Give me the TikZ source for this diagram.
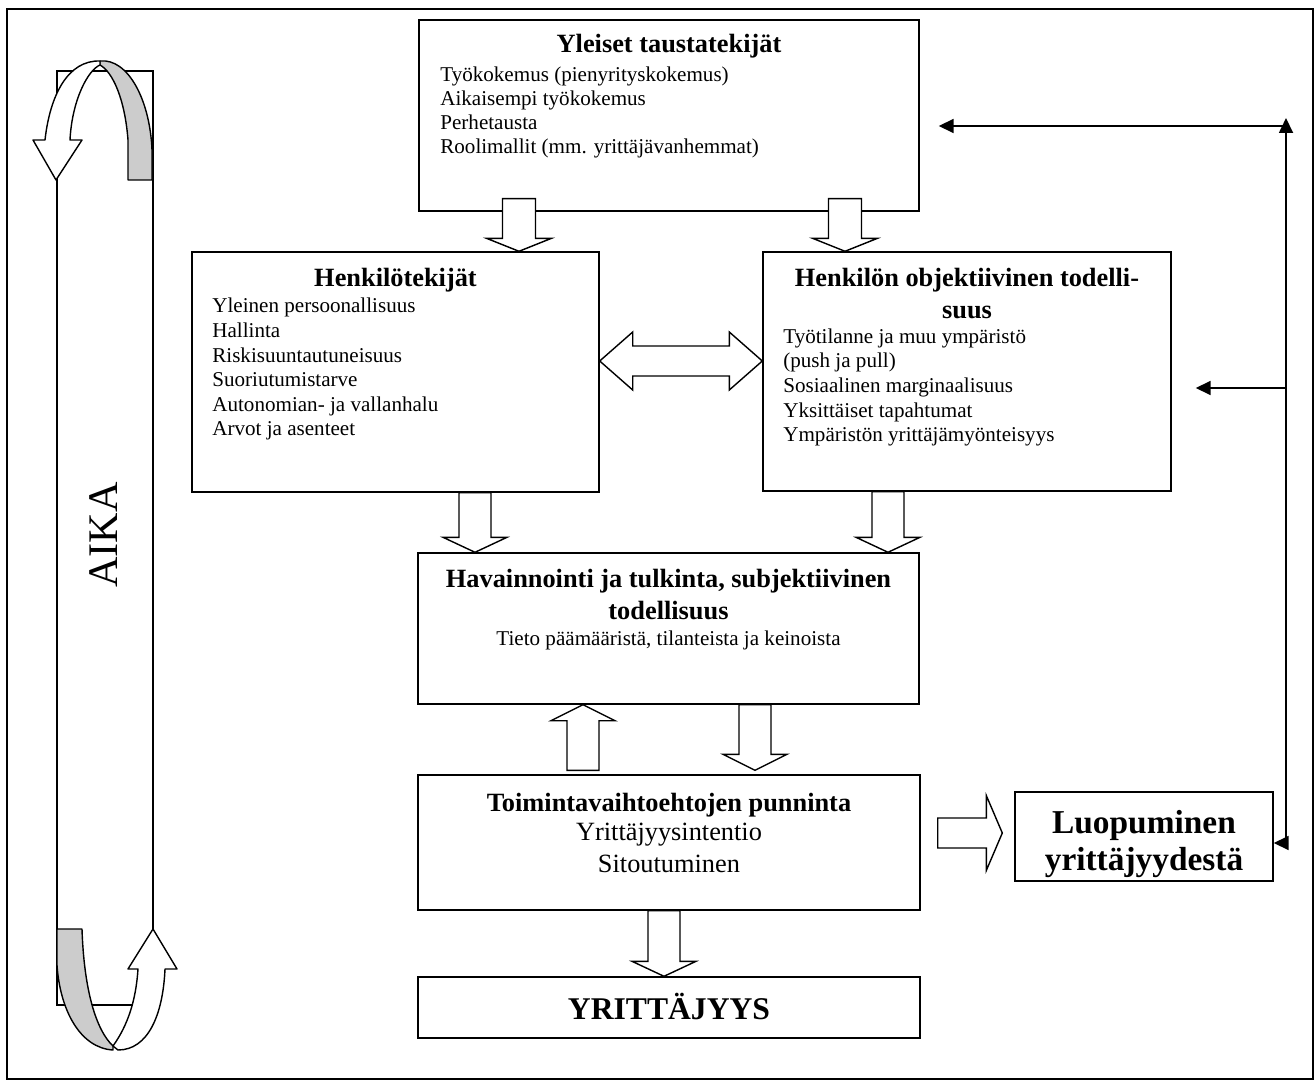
\documentclass[tikz,border=0pt]{standalone}
\usepackage{fontspec}
\setmainfont{Liberation Serif}
\usetikzlibrary{fit,calc,arrows.meta}

\tikzset{
  box/.style={draw,line width=0.8pt,inner sep=0pt},
  head/.style={font=\fontsize{15}{17}\selectfont\bfseries,inner sep=0pt},
  item/.style={font=\fontsize{12}{14}\selectfont,inner sep=0pt},
  bigitem/.style={font=\fontsize{15}{17}\selectfont,inner sep=0pt},
  blockarr/.style={draw,fill=white,line width=0.8pt,line join=miter},
  ribbon/.style={draw,line width=0.8pt,line join=round},
  link/.style={line width=1pt,>={Triangle[length=0.3cm,width=0.28cm]}},
}

\newcommand{\blockarrow}[5]{%
  \coordinate (ba) at ($(#2)!#5!(#1)$);
  \filldraw[blockarr] ($(#1)!#3!90:(#2)$) -- ($(ba)!#3!90:(#2)$) -- ($(ba)!#4!90:(#2)$) -- (#2)
    -- ($(ba)!#4!-90:(#2)$) -- ($(ba)!#3!-90:(#2)$) -- ($(#1)!#3!-90:(#2)$) -- cycle;}

\begin{document}
\begin{tikzpicture}[x=0.02cm,y=-0.02cm]
  \useasboundingbox (0,0) rectangle (1315,1081);
  \node[box,fit={(7,9) (1313,1079)}] (frame) {};

  \node[box,fit={(419,20) (919,211)}] (yl) {};
  \node[box,fit={(192,252) (599,492)}] (hk) {};
  \node[box,fit={(763,252) (1171,491)}] (ho) {};
  \node[box,fit={(418,553) (919,704)}] (hv) {};
  \node[box,fit={(418,775) (920,910)}] (tp) {};
  \node[box,fit={(418,977) (920,1038)}] (yr) {};
  \node[box,fit={(1015,792) (1273,881)}] (lu) {};
  \node[box,fit={(57,71) (153,1005)}] (aika) {};

  \node[head,anchor=base] (ylh) at (669,53) {Yleiset taustatekijät};
  \foreach \t [count=\i] in {Työkokemus (pienyrityskokemus),Aikaisempi työkokemus,Perhetausta,Roolimallit (mm. yrittäjävanhemmat)}
    \node[item,anchor=base west] (yl\i) at (440,{82+23.7*(\i-1)}) {\t};

  \node[head,anchor=base] (hkh) at (395.5,287) {Henkilötekijät};
  \foreach \t [count=\i] in {Yleinen persoonallisuus,Hallinta,Riskisuuntautuneisuus,Suoriutumistarve,Autonomian- ja vallanhalu,Arvot ja asenteet}
    \node[item,anchor=base west] (hk\i) at (212,{313+24.5*(\i-1)}) {\t};

  \node[head,anchor=base] (hoh1) at (967,287) {Henkilön objektiivinen todelli-};
  \node[head,anchor=base] (hoh2) at (967,318) {suus};
  \foreach \t [count=\i] in {Työtilanne ja muu ympäristö,(push ja pull),Sosiaalinen marginaalisuus,Yksittäiset tapahtumat,Ympäristön yrittäjämyönteisyys}
    \node[item,anchor=base west] (ho\i) at (783,{343+24.7*(\i-1)}) {\t};

  \node[head,anchor=base] (hvh1) at (668.5,587) {Havainnointi ja tulkinta, subjektiivinen};
  \node[head,anchor=base] (hvh2) at (668.5,619) {todellisuus};
  \node[item,anchor=base] (hv1) at (668.5,645) {Tieto päämääristä, tilanteista ja keinoista};

  \node[head,anchor=base] (tph) at (669,811) {Toimintavaihtoehtojen punninta};
  \node[bigitem,anchor=base] (tp1) at (669,840) {Yrittäjyysintentio};
  \node[bigitem,anchor=base] (tp2) at (669,872) {Sitoutuminen};

  \node[anchor=base,inner sep=0pt,font=\fontsize{18}{20}\selectfont\bfseries] (yrt) at (669,1019) {YRITTÄJYYS};
  \node[anchor=base,inner sep=0pt,font=\fontsize{19}{22}\selectfont\bfseries] (lut1) at (1144,833) {Luopuminen};
  \node[anchor=base,inner sep=0pt,font=\fontsize{19}{22}\selectfont\bfseries] (lut2) at (1144,870) {yrittäjyydestä};
  \node[rotate=90,inner sep=0pt,font=\fontsize{24}{26}\selectfont] (aikat) at (104,535) {AIKA};

  \filldraw[ribbon,fill=gray!40] (100,61) .. controls (128,58) and (150,100) .. (152,150) -- (152,180) -- (128,180) -- (128,140) .. controls (125,100) and (113,72) .. (100,65) -- cycle;
  \filldraw[ribbon,fill=white] (45,140) .. controls (50,95) and (68,60) .. (100,61) -- (100,65) .. controls (88,70) and (72,100) .. (70,140) -- (82,140) -- (56,180) -- (33,140) -- cycle;
  \filldraw[ribbon,fill=gray!40] (57,929) -- (82,929) .. controls (84,990) and (96,1030) .. (113,1046) -- (113,1050) .. controls (80,1048) and (60,1010) .. (57,965) -- cycle;
  \filldraw[ribbon,fill=white] (113,1046) .. controls (128,1025) and (136,1000) .. (138,969) -- (128,969) -- (153,929) -- (177,969) -- (165,969) .. controls (163,1015) and (148,1050) .. (118,1050) -- cycle;

  \coordinate (a1s) at ($(yl.south -| 519,0)+(0,-13)$);
  \coordinate (a1e) at (hk.north -| 519,0);
  \blockarrow{a1s}{a1e}{0.33cm}{0.65cm}{0.26cm}
  \coordinate (a2s) at ($(yl.south -| 845,0)+(0,-13)$);
  \coordinate (a2e) at (ho.north -| 845,0);
  \blockarrow{a2s}{a2e}{0.33cm}{0.65cm}{0.26cm}
  \coordinate (a3s) at (hk.south -| 475,0);
  \coordinate (a3e) at (hv.north -| 475,0);
  \blockarrow{a3s}{a3e}{0.32cm}{0.64cm}{0.3cm}
  \coordinate (a4s) at (ho.south -| 888,0);
  \coordinate (a4e) at (hv.north -| 888,0);
  \blockarrow{a4s}{a4e}{0.32cm}{0.64cm}{0.3cm}
  \coordinate (a5s) at ($(tp.north -| 583,0)+(0,-4)$);
  \coordinate (a5e) at (hv.south -| 583,0);
  \blockarrow{a5s}{a5e}{0.32cm}{0.64cm}{0.32cm}
  \coordinate (a6s) at (hv.south -| 755,0);
  \coordinate (a6e) at ($(tp.north -| 755,0)+(0,-4)$);
  \blockarrow{a6s}{a6e}{0.32cm}{0.64cm}{0.32cm}
  \coordinate (a7s) at (tp.south -| 664,0);
  \coordinate (a7e) at (yr.north -| 664,0);
  \blockarrow{a7s}{a7e}{0.32cm}{0.64cm}{0.3cm}
  \coordinate (a8s) at ($(tp.east |- 0,833)+(17,0)$);
  \coordinate (a8e) at ($(lu.west |- 0,833)+(-12,0)$);
  \blockarrow{a8s}{a8e}{0.3cm}{0.75cm}{0.32cm}

  \coordinate (dl) at (hk.east |- 0,361);
  \coordinate (dr) at (ho.west |- 0,361);
  \filldraw[blockarr] (dl) -- ++(33,-29) -- ++(0,14) -- ($(dr)+(-33,-15)$) -- ++(0,-14) -- (dr)
    -- ++(-33,29) -- ++(0,-14) -- ($(dl)+(33,15)$) -- ++(0,14) -- cycle;

  \coordinate (rtop) at (1286,118);
  \coordinate (rbot) at (1286,843);
  \draw[link,<->] (lu.east |- rbot) -- (rbot) -- (rtop);
  \coordinate (j1) at (rtop |- 0,126);
  \coordinate (t1) at ($(yl.east |- j1)+(19,0)$);
  \draw[link,->] (j1) -- (t1);
  \coordinate (j2) at (rtop |- 0,388);
  \coordinate (t2) at ($(ho.east |- j2)+(24,0)$);
  \draw[link,->] (j2) -- (t2);
\end{tikzpicture}
\end{document}
